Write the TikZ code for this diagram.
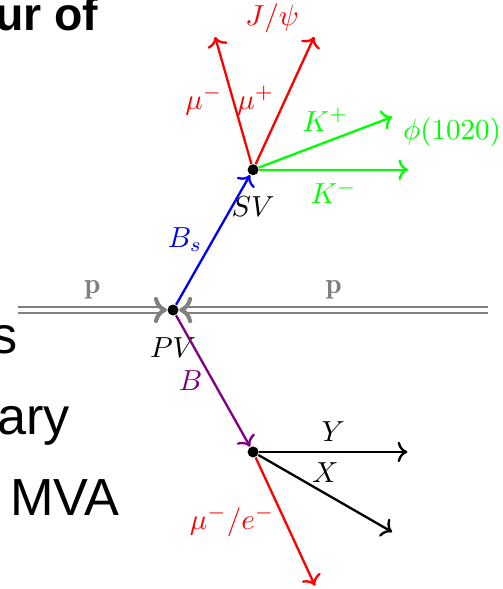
\documentclass[tikz,border=0pt]{standalone}
\usepackage{amsmath}
\usepackage{fontspec}
\newfontfamily\slidefont{Liberation Sans}
\usetikzlibrary{positioning, arrows.meta}

\tikzset{
    vtx/.style={circle, fill=black, inner sep=0pt, minimum size=3.8pt},
    track/.style={thick, ->},
    beam/.style={draw=gray, double=white, double distance=1.4pt, line width=0.8pt,
        -{To[length=4.5pt, width=9pt, line width=1.4pt]}},
    slide/.style={inner sep=0pt, anchor=base east, font=\slidefont\fontsize{18}{22}\selectfont},
}

\begin{document}
\begin{tikzpicture}[on grid]
    \useasboundingbox (-2.097,-3.381) rectangle (3.987,3.757);

    % bits of the slide behind the picture
    \node[slide, font=\slidefont\bfseries\fontsize{16}{19}\selectfont] (title) at (-0.897,3.393) {ur of};
    \node[slide] (txta) at (-1.873,-0.533) {s};
    \node[slide] (txtb) at (-1.242,-1.503) {ary};
    \node[slide] (txtc) at (-0.642,-2.485) {MVA};

    % vertices
    \node[vtx] (pv) at (0,0) {};
    \node[vtx, above right=1.70cm and 0.97cm of pv] (sv) {};
    \node[vtx, below right=1.72cm and 0.97cm of pv] (bv) {};
    \node[below=0.46cm of pv] (pvlab) {$PV$};
    \node[below=0.45cm of sv] (svlab) {$SV$};

    % track ends
    \coordinate[left=1.88cm of pv] (pl);
    \coordinate[right=3.82cm of pv] (pr);
    \coordinate[above left=1.61cm and 0.46cm of sv] (mum);
    \coordinate[above right=1.61cm and 0.74cm of sv] (mup);
    \coordinate[above right=0.64cm and 1.685cm of sv] (kp);
    \coordinate[right=1.88cm of sv] (km);
    \coordinate[right=1.87cm of bv] (yend);
    \coordinate[below right=0.97cm and 1.685cm of bv] (xend);
    \coordinate[below right=1.62cm and 0.75cm of bv] (lep);

    % beams
    \draw[beam] (pl) -- node[midway, above, gray] {$\mathbf{p}$} (pv);
    \draw[beam] (pr) -- node[midway, above, gray] {$\mathbf{p}$} (pv);

    % B_s -> J/psi phi
    \draw[track, blue] (pv) -- node[midway, left] {$B_s$} (sv);
    \draw[track, red] (sv) -- node[midway, left] {$\mu^-$} (mum);
    \draw[track, red] (sv) -- node[midway, left] {$\mu^+$} (mup);
    \draw[track, green] (sv) -- node[midway, above] {$K^+$} (kp);
    \draw[track, green] (sv) -- node[midway, below] {$K^-$} (km);
    \node[red, above right=1.84cm and 0.23cm of sv] (jpsi) {$J/\psi$};
    \node[green, above right=0.45cm and 2.41cm of sv] (phi) {$\phi(1020)$};

    % B -> mu/e X Y
    \draw[track, violet] (pv) -- node[midway, left] {$B$} (bv);
    \draw[track] (bv) -- node[midway, above] {$Y$} (yend);
    \draw[track] (bv) -- node[midway, above] {$X$} (xend);
    \draw[track, red] (bv) -- node[midway, left] {$\mu^-/e^-$} (lep);
\end{tikzpicture}
\end{document}
